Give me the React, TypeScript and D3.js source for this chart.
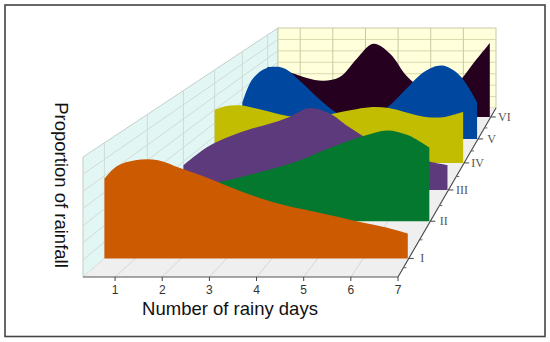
import React from "react";
import * as d3 from "d3";

const days = [0.32, 0.6, 1, 1.5, 2, 2.5, 3, 3.5, 4, 4.5, 5, 5.5, 6, 6.5, 7];
const tickDays = [1, 2, 3, 4, 5, 6, 7];
const seriesNames = ["VI", "V", "IV", "III", "II", "I"];
const seriesColors = ["#26001f", "#0047a0", "#c2bd00", "#5c3a7c", "#04782e", "#cc5a00"];
const seriesDepths = [0.947, 0.817, 0.675, 0.515, 0.33, 0.11];
const serVI = [0.61, 0.585, 0.54, 0.475, 0.44, 0.49, 0.71, 0.89, 0.77, 0.5, 0.34, 0.29, 0.4, 0.65, 0.9];
const serV = [0.41, 0.68, 0.81, 0.81, 0.65, 0.46, 0.3, 0.23, 0.25, 0.38, 0.58, 0.77, 0.84, 0.73, 0.42];
const serIV = [0.57, 0.61, 0.62, 0.58, 0.53, 0.495, 0.495, 0.53, 0.57, 0.6, 0.59, 0.54, 0.495, 0.495, 0.55];
const serIII = [0.25, 0.34, 0.45, 0.54, 0.61, 0.665, 0.735, 0.825, 0.775, 0.635, 0.51, 0.42, 0.34, 0.29, 0.25];
const serII = [0.23, 0.26, 0.3, 0.33, 0.365, 0.41, 0.46, 0.515, 0.58, 0.665, 0.74, 0.805, 0.85, 0.805, 0.69];
const serI = [0.69, 0.8, 0.85, 0.85, 0.78, 0.71, 0.63, 0.555, 0.49, 0.44, 0.4, 0.355, 0.31, 0.27, 0.216];
const allSeries = [serVI, serV, serIV, serIII, serII, serI];
const gridFractions = [1 / 7, 2 / 7, 3 / 7, 4 / 7, 5 / 7, 6 / 7];

// projection: depth 0 (front) .. 1 (back)
const left = d3.scaleLinear().domain([0, 1]).range([83, 278]);
const right = d3.scaleLinear().domain([0, 1]).range([398, 496]);
const base = d3.scaleLinear().domain([0, 1]).range([277, 108]);
const wall = d3.scaleLinear().domain([0, 1]).range([120, 80]);
const xAt = (depth: number) => d3.scaleLinear().domain([0.32, 7]).range([left(depth), right(depth)]);
const yAt = (depth: number) => d3.scaleLinear().domain([0, 1]).range([base(depth), base(depth) - wall(depth)]);

export default function App() {
  const gridColor = "#cdd8d5";
  const poly = (pts: number[][]) => pts.map((p) => p.join(",")).join(" ");
  const y0 = yAt(0), y1 = yAt(1);
  const x0 = xAt(0), x1 = xAt(1);
  const minor = seriesDepths.slice(0, -1).map((d, i) => (d + seriesDepths[i + 1]) / 2).concat([0.055]);
  return (
    <svg width={550} height={342} style={{ position: "absolute", left: 0, top: 0, background: "#fff" }}>
      <rect x={5} y={5} width={540} height={331.5} fill="#fff" stroke="#444" strokeWidth={1.6} />
      <polygon points={poly([[83, y0(1)], [278, y1(1)], [278, y1(0)], [83, y0(0)]])} fill="#e2f6f4" stroke="#c3cdcb" />
      <rect x={278} y={y1(1)} width={218} height={80} fill="#ffffdc" stroke="#c9c9a8" />
      <polygon points={poly([[83, 277], [398, 277], [496, 108], [278, 108]])} fill="#efefef" />
      {gridFractions.map((f) => (
        <g key={f} fill="none" strokeWidth={0.9}>
          <line x1={83} y1={y0(f)} x2={278} y2={y1(f)} stroke={gridColor} />
          <line x1={278} y1={y1(f)} x2={496} y2={y1(f)} stroke="#d5d5a8" />
        </g>
      ))}
      {seriesDepths.map((d) => (
        <line key={d} x1={left(d)} x2={left(d)} y1={yAt(d)(0)} y2={yAt(d)(1)} stroke={gridColor} strokeWidth={0.9} />
      ))}
      {tickDays.slice(0, 6).map((t) => (
        <line key={t} x1={x1(t)} x2={x1(t)} y1={y1(0)} y2={y1(1)} stroke="#c9c9a0" strokeWidth={1} />
      ))}
      {tickDays.slice(0, 6).map((t) => (
        <line key={t} x1={x0(t)} x2={x1(t)} y1={277} y2={108} stroke="#d2d2d2" strokeWidth={0.9} />
      ))}
      {allSeries.map((vals, i) => {
        const d = seriesDepths[i];
        const x = xAt(d), y = yAt(d);
        const xEnd = d3.scaleLinear().domain([0.32, 7]).range([x(0.32), x(7) - 1]);
        const area = d3.area<number>()
          .x((_, j) => xEnd(days[j]))
          .y0(y(0))
          .y1((v) => y(v))
          .curve(d3.curveCatmullRom.alpha(0.5));
        return <path key={seriesNames[i]} d={area(vals) ?? ""} fill={seriesColors[i]} />;
      })}
      <line x1={83} y1={277} x2={398} y2={277} stroke="#555" strokeWidth={1.1} />
      <line x1={398} y1={277} x2={496} y2={108} stroke="#444" strokeWidth={1.1} />
      {tickDays.map((t) => (
        <g key={t}>
          <line x1={x0(t)} x2={x0(t)} y1={277} y2={281} stroke="#444" />
          <text x={x0(t)} y={294} textAnchor="middle" fontFamily="Liberation Sans" fontSize={12} fill="#333">{t}</text>
        </g>
      ))}
      {minor.map((d) => (
        <line key={d} x1={right(d)} x2={right(d) + 3} y1={base(d)} y2={base(d)} stroke="#666" />
      ))}
      {seriesDepths.map((d, i) => {
        const xr = right(d), yb = base(d);
        return (
          <g key={d}>
            <line x1={xr} x2={xr + 5} y1={yb} y2={yb} stroke="#444" />
            <text x={xr + 13.5} y={yb + 4} fontFamily="Liberation Serif" fontSize={12} fill="#555" textAnchor="middle">{seriesNames[i]}</text>
          </g>
        );
      })}
      <text x={230} y={315} textAnchor="middle" fontFamily="Liberation Sans" fontSize={18.5} fill="#111">Number of rainy days</text>
      <text transform="translate(55,185) rotate(90)" textAnchor="middle" fontFamily="Liberation Sans" fontSize={18.5} fill="#111">Proportion of rainfall</text>
    </svg>
  );
}
